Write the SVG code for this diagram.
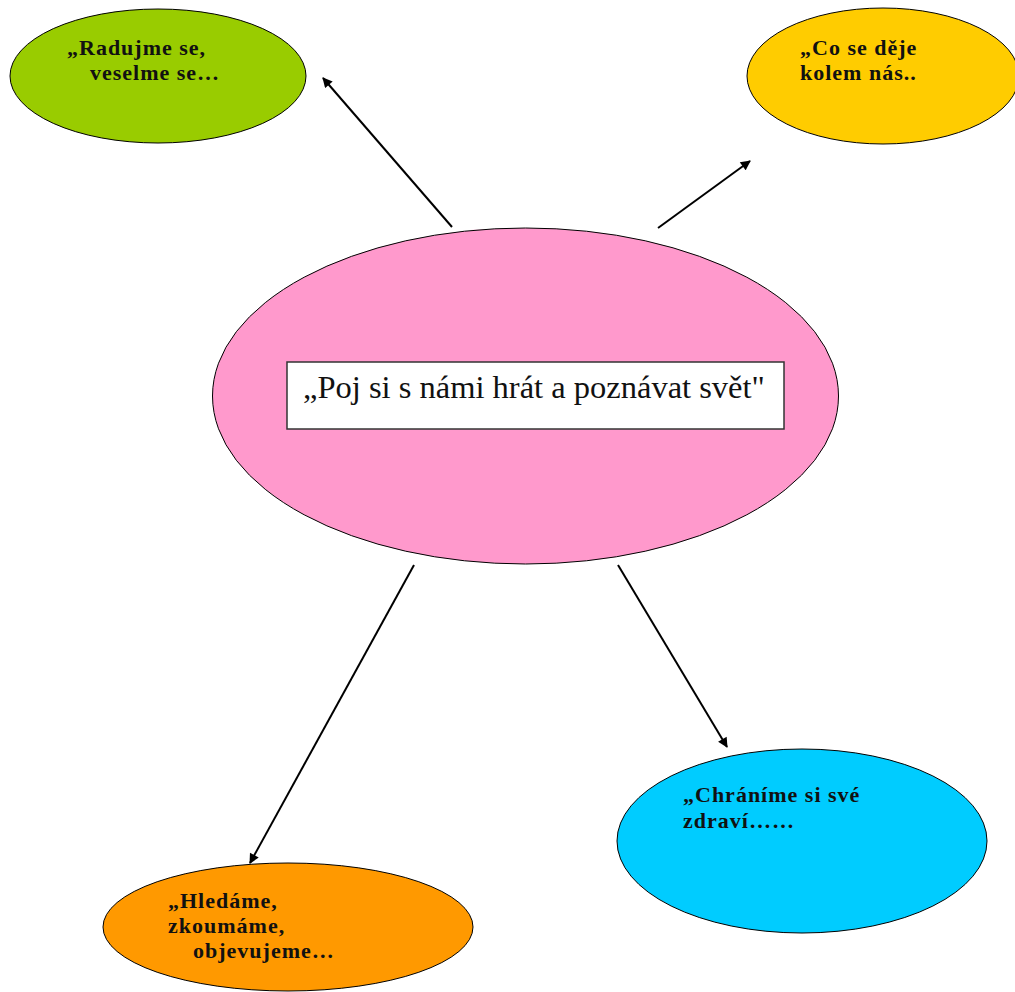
<svg xmlns="http://www.w3.org/2000/svg" width="1015" height="992" viewBox="0 0 1015 992">
<style>
.n{stroke:#000;stroke-width:1}
.t{font-family:"Liberation Serif","Times New Roman",serif;font-weight:bold;font-size:22px;letter-spacing:1px;fill:#111}
.c{font-family:"Liberation Serif","Times New Roman",serif;font-size:32.5px;fill:#111}
.a{stroke:#000;stroke-width:2;fill:none;marker-end:url(#ah)}
</style>
<defs>
<marker id="ah" viewBox="0 0 10 10" refX="9" refY="5" markerWidth="11" markerHeight="10" markerUnits="userSpaceOnUse" orient="auto">
<path d="M0,0 L10,5 L0,10 z" fill="#000"/>
</marker>
</defs>
<rect width="1015" height="992" fill="#fff"/>
<g id="center">
<ellipse class="n" cx="525.5" cy="396" rx="313" ry="168" fill="#ff99cc"/>
<rect x="287" y="362" width="497" height="67" fill="#fff" stroke="#333" stroke-width="1.5"/>
<text class="c" x="303" y="398">„Poj si s námi hrát a poznávat svět"</text>
</g>
<g id="n-radujme">
<ellipse class="n" cx="158" cy="76" rx="148" ry="67" fill="#99cc00"/>
<text class="t" x="67" y="55">„Radujme se,</text>
<text class="t" x="90" y="80">veselme se…</text>
</g>
<g id="n-co">
<ellipse class="n" cx="883" cy="76" rx="136" ry="68" fill="#ffcc00"/>
<text class="t" x="800" y="55">„Co se děje</text>
<text class="t" x="800" y="80">kolem nás..</text>
</g>
<g id="n-chranime">
<ellipse class="n" cx="802" cy="841" rx="185" ry="92" fill="#00ccff"/>
<text class="t" x="683" y="802">„Chráníme si své</text>
<text class="t" x="683" y="828">zdraví……</text>
</g>
<g id="n-hledame">
<ellipse class="n" cx="288" cy="927" rx="185" ry="64" fill="#ff9900"/>
<text class="t" x="168" y="908">„Hledáme,</text>
<text class="t" x="168" y="933">zkoumáme,</text>
<text class="t" x="193" y="958">objevujeme…</text>
</g>
<g id="connectors">
<line class="a" x1="452" y1="227" x2="323" y2="78"/>
<line class="a" x1="658" y1="228" x2="750" y2="161"/>
<line class="a" x1="414" y1="565" x2="250" y2="863"/>
<line class="a" x1="618" y1="565" x2="727" y2="747"/>
</g>
</svg>
